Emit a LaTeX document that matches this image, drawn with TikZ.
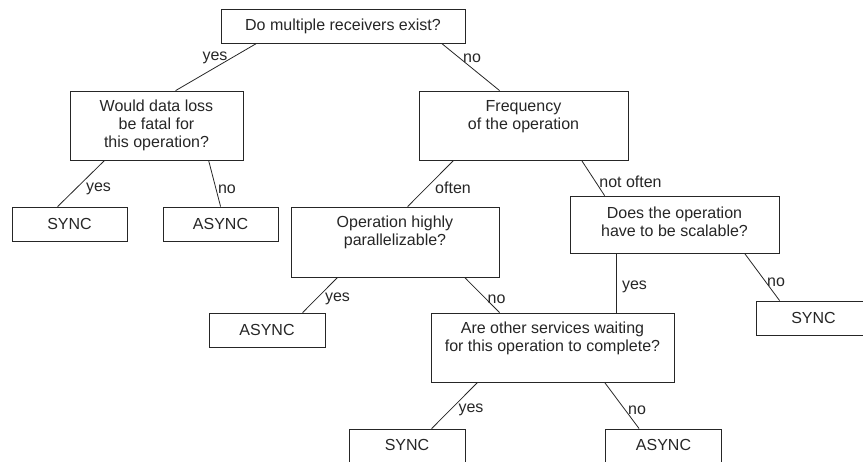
\documentclass[tikz,border=0pt]{standalone}
\usepackage{fontspec}
\setmainfont{Liberation Sans}
\begin{document}
\begin{tikzpicture}[x=1pt,y=-1pt,
  box/.style={draw=black!85, line width=0.8pt, rectangle, inner sep=0pt, fill=white},
  txt/.style={align=center, inner sep=0pt, font=\fontsize{16}{18}\selectfont, text=black!85},
  lbl/.style={inner sep=0pt, font=\fontsize{16}{18}\selectfont, text=black!85},
  conn/.style={draw=black!85, line width=0.8pt}]
\useasboundingbox (0,0) rectangle (863,461);
\clip (0,0) rectangle (863,461);
% boxes
\node[box, minimum width=244pt, minimum height=34pt] (q1) at (343,26) {};
\node[txt] (q1t) at (343,26) {Do multiple receivers exist?};
\node[box, minimum width=173pt, minimum height=69pt] (q2) at (156.5,125.5) {};
\node[txt] (q2t) at (156.5,125.5) {Would data loss\\be fatal for\\this operation?};
\node[box, minimum width=209pt, minimum height=69pt] (q3) at (523.5,125.5) {};
\node[txt] (q3t) at (523.5,116.5) {Frequency\\of the operation};
\node[box, minimum width=115pt, minimum height=34pt] (s1) at (69.5,224) {};
\node[txt] (s1t) at (69.5,224) {SYNC};
\node[box, minimum width=115pt, minimum height=34pt] (a1) at (220.5,224) {};
\node[txt] (a1t) at (220.5,224) {ASYNC};
\node[box, minimum width=208pt, minimum height=70pt] (q4) at (395,242) {};
\node[txt] (q4t) at (395,232) {Operation highly\\parallelizable?};
\node[box, minimum width=209pt, minimum height=57pt] (q5) at (674.5,224.5) {};
\node[txt] (q5t) at (674.5,221.5) {Does the operation\\have to be scalable?};
\node[box, minimum width=116pt, minimum height=34pt] (a2) at (267,330) {};
\node[txt] (a2t) at (267,330) {ASYNC};
\node[box, minimum width=243pt, minimum height=69pt] (q6) at (552.5,347.5) {};
\node[txt] (q6t) at (552.5,338) {Are other services waiting\\for this operation to complete?};
\node[box, minimum width=115pt, minimum height=34pt] (s2) at (813.5,318) {};
\node[txt] (s2t) at (813.5,318) {SYNC};
\node[box, minimum width=116pt, minimum height=34pt] (s3) at (407,446) {};
\node[txt] (s3t) at (407,445) {SYNC};
\node[box, minimum width=116pt, minimum height=34pt] (a3) at (663.5,446) {};
\node[txt] (a3t) at (663.5,445) {ASYNC};
% connectors
\draw[conn] ([xshift=36pt]q1.south west) -- ([xshift=106pt]q2.north west);
\draw[conn] ([xshift=221pt]q1.south west) -- ([xshift=81pt]q3.north west);
\draw[conn] ([xshift=35pt]q2.south west) -- ([xshift=46pt]s1.north west);
\draw[conn] ([xshift=139pt]q2.south west) -- ([xshift=58pt]a1.north west);
\draw[conn] ([xshift=35pt]q3.south west) -- ([xshift=117pt]q4.north west);
\draw[conn] ([xshift=163pt]q3.south west) -- ([xshift=35pt]q5.north west);
\draw[conn] ([xshift=47pt]q4.south west) -- ([xshift=94pt]a2.north west);
\draw[conn] ([xshift=174pt]q4.south west) -- ([xshift=69pt]q6.north west);
\draw[conn] ([xshift=47pt]q5.south west) -- ([xshift=186pt]q6.north west);
\draw[conn] ([xshift=175pt]q5.south west) -- ([xshift=24pt]s2.north west);
\draw[conn] ([xshift=47pt]q6.south west) -- ([xshift=83pt]s3.north west);
\draw[conn] ([xshift=174pt]q6.south west) -- ([xshift=34pt]a3.north west);
% labels
\node[lbl] (l1) at (215,58) {yes};
\node[lbl] (l2) at (472,58) {no};
\node[lbl] (l3) at (98.5,189) {yes};
\node[lbl] (l4) at (227,189) {no};
\node[lbl] (l5) at (453,188) {often};
\node[lbl] (l6) at (630.5,182) {not often};
\node[lbl] (l7) at (337.5,299) {yes};
\node[lbl] (l8) at (496.5,299) {no};
\node[lbl] (l9) at (634.5,287) {yes};
\node[lbl] (l10) at (776,282) {no};
\node[lbl] (l11) at (471,410) {yes};
\node[lbl] (l12) at (637,410) {no};
\end{tikzpicture}
\end{document}
